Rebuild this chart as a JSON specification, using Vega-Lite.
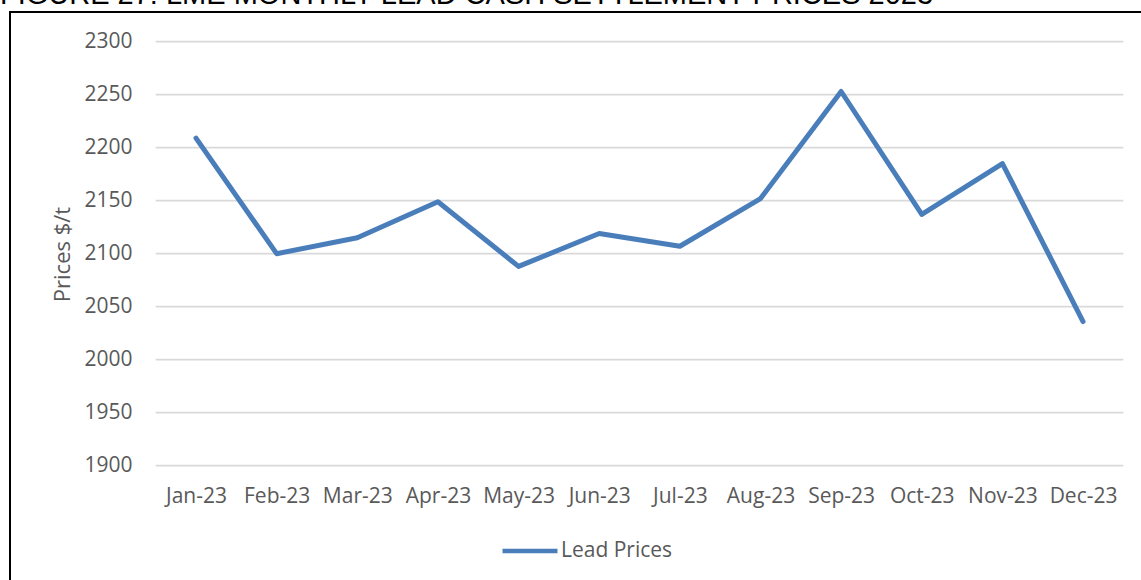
{
  "$schema": "https://vega.github.io/schema/vega-lite/v6.json",
  "width": 1140,
  "height": 590,
  "autosize": {"type": "none"},
  "padding": {"left": 10, "top": 12, "right": 0, "bottom": 0},
  "background": "white",
  "title": {
    "text": "FIGURE 27: LME MONTHLY LEAD CASH SETTLEMENT PRICES 2023",
    "anchor": "start",
    "frame": "group",
    "font": "Liberation Sans",
    "fontSize": 29,
    "fontWeight": "normal",
    "color": "#000000",
    "baseline": "alphabetic",
    "offset": -0.5,
    "dx": -10,
    "dy": 20
  },
  "config": {"view": {"stroke": "#000000", "strokeWidth": 2}},
  "datasets": {
    "grid": [
      {"level": 1900}, {"level": 1950}, {"level": 2000}, {"level": 2050}, {"level": 2100},
      {"level": 2150}, {"level": 2200}, {"level": 2250}, {"level": 2300}
    ],
    "prices": [
      {"idx": 0, "month": "Jan-23", "price": 2209},
      {"idx": 1, "month": "Feb-23", "price": 2100},
      {"idx": 2, "month": "Mar-23", "price": 2115},
      {"idx": 3, "month": "Apr-23", "price": 2149},
      {"idx": 4, "month": "May-23", "price": 2088},
      {"idx": 5, "month": "Jun-23", "price": 2119},
      {"idx": 6, "month": "Jul-23", "price": 2107},
      {"idx": 7, "month": "Aug-23", "price": 2152},
      {"idx": 8, "month": "Sep-23", "price": 2253},
      {"idx": 9, "month": "Oct-23", "price": 2137},
      {"idx": 10, "month": "Nov-23", "price": 2185},
      {"idx": 11, "month": "Dec-23", "price": 2036}
    ]
  },
  "layer": [
    {
      "data": {"name": "grid"},
      "mark": {"type": "rule", "color": "#d9d9d9", "strokeWidth": 1.8},
      "encoding": {
        "y": {
          "field": "level", "type": "quantitative",
          "scale": {"domain": [1771.4, 2328.0], "nice": false, "zero": false},
          "axis": {
            "values": [1900, 1950, 2000, 2050, 2100, 2150, 2200, 2250, 2300],
            "format": "d",
            "title": "Prices $/t",
            "domain": false,
            "ticks": false,
            "tickSize": 0,
            "grid": false,
            "offset": -122,
            "labelPadding": 0,
            "labelFont": "Open Sans",
            "labelFontSize": 21,
            "labelColor": "#595959",
            "labelOverlap": false,
            "titleFont": "Open Sans",
            "titleFontSize": 22,
            "titleFontWeight": "normal",
            "titleColor": "#595959",
            "titleX": -70,
            "titleY": 242,
            "titleAngle": -90,
            "titleBaseline": "middle",
            "titleAlign": "center"
          }
        },
        "x": {
          "datum": -0.5, "type": "quantitative",
          "scale": {"domain": [-2.3066, 11.83], "nice": false, "zero": false},
          "axis": {
            "values": [0, 1, 2, 3, 4, 5, 6, 7, 8, 9, 10, 11],
            "labelExpr": "['Jan-23','Feb-23','Mar-23','Apr-23','May-23','Jun-23','Jul-23','Aug-23','Sep-23','Oct-23','Nov-23','Dec-23'][datum.value]",
            "title": null,
            "domain": false,
            "ticks": false,
            "tickSize": 0,
            "grid": false,
            "offset": -136,
            "labelPadding": 19,
            "labelFont": "Open Sans",
            "labelFontSize": 21,
            "labelColor": "#595959",
            "labelFlush": false,
            "labelOverlap": false
          }
        },
        "x2": {"datum": 11.5}
      }
    },
    {
      "data": {"name": "prices"},
      "mark": {"type": "line", "strokeWidth": 5, "strokeCap": "round", "strokeJoin": "round"},
      "encoding": {
        "x": {
          "field": "idx", "type": "quantitative",
          "scale": {"domain": [-2.3066, 11.83], "nice": false, "zero": false},
          "axis": {
            "values": [0, 1, 2, 3, 4, 5, 6, 7, 8, 9, 10, 11],
            "labelExpr": "['Jan-23','Feb-23','Mar-23','Apr-23','May-23','Jun-23','Jul-23','Aug-23','Sep-23','Oct-23','Nov-23','Dec-23'][datum.value]",
            "title": null,
            "domain": false,
            "ticks": false,
            "tickSize": 0,
            "grid": false,
            "offset": -136,
            "labelPadding": 19,
            "labelFont": "Open Sans",
            "labelFontSize": 21,
            "labelColor": "#595959",
            "labelFlush": false,
            "labelOverlap": false
          }
        },
        "y": {
          "field": "price", "type": "quantitative",
          "scale": {"domain": [1771.4, 2328.0], "nice": false, "zero": false},
          "axis": {
            "values": [1900, 1950, 2000, 2050, 2100, 2150, 2200, 2250, 2300],
            "format": "d",
            "title": "Prices $/t",
            "domain": false,
            "ticks": false,
            "tickSize": 0,
            "grid": false,
            "offset": -122,
            "labelPadding": 0,
            "labelFont": "Open Sans",
            "labelFontSize": 21,
            "labelColor": "#595959",
            "labelOverlap": false,
            "titleFont": "Open Sans",
            "titleFontSize": 22,
            "titleFontWeight": "normal",
            "titleColor": "#595959",
            "titleX": -70,
            "titleY": 242,
            "titleAngle": -90,
            "titleBaseline": "middle",
            "titleAlign": "center"
          }
        },
        "color": {
          "datum": "Lead Prices",
          "scale": {"range": ["#4A7EBB"]},
          "legend": {
            "title": null,
            "orient": "none",
            "legendX": 490,
            "legendY": 509,
            "symbolType": "stroke",
            "symbolStrokeWidth": 4.5,
            "symbolSize": 3025,
            "labelFont": "Open Sans",
            "labelFontSize": 21,
            "labelColor": "#595959",
            "labelOffset": 1,
            "padding": 0
          }
        }
      }
    }
  ]
}
